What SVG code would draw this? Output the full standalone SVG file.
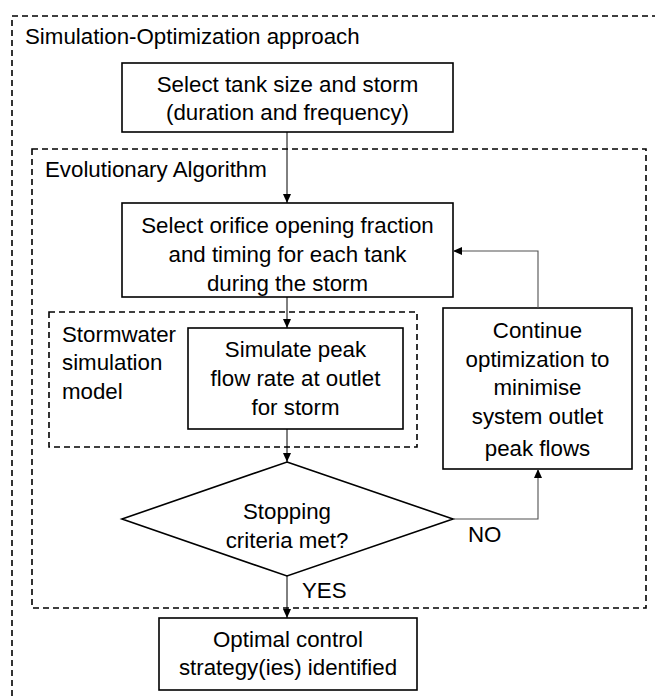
<svg xmlns="http://www.w3.org/2000/svg" width="655" height="696" viewBox="0 0 655 696">
<defs>
<style>
text{font-family:"Liberation Sans",Arial,sans-serif;font-size:22.3px;fill:#000}
.c{text-anchor:middle}
.box{fill:#fff;stroke:#000;stroke-width:1.6}
.dash{fill:none;stroke:#000;stroke-width:1.6;stroke-dasharray:6 4}
.ln{fill:none;stroke:#000;stroke-width:1}
.gl{fill:none;stroke:#505050;stroke-width:1.1}
</style>
<marker id="ah" viewBox="0 0 10 10" refX="10" refY="5" markerWidth="9" markerHeight="8" markerUnits="userSpaceOnUse" orient="auto" preserveAspectRatio="none">
<path d="M0,0 L10,5 L0,10 Z" fill="#000"/>
</marker>
</defs>
<rect width="655" height="696" fill="#fff"/>
<g id="outer">
<rect class="dash" x="12" y="16" width="670" height="720"/>
<text x="25" y="44">Simulation-Optimization approach</text>
</g>
<g id="evo">
<rect class="dash" x="32" y="149" width="614" height="459"/>
<text x="45" y="177">Evolutionary Algorithm</text>
</g>
<g id="swmodel">
<rect class="dash" x="49" y="312" width="368" height="135"/>
<text x="62"><tspan x="62" y="342">Stormwater</tspan><tspan x="62" y="370">simulation</tspan><tspan x="62" y="399">model</tspan></text>
</g>
<g id="select-tank">
<rect class="box" x="122" y="63" width="331" height="69"/>
<text class="c"><tspan x="287.5" y="92">Select tank size and storm</tspan><tspan x="287.5" y="120">(duration and frequency)</tspan></text>
</g>
<g id="select-orifice">
<rect class="box" x="122" y="203" width="331" height="94"/>
<text class="c"><tspan x="287.5" y="233">Select orifice opening fraction</tspan><tspan x="287.5" y="262">and timing for each tank</tspan><tspan x="287.5" y="291">during the storm</tspan></text>
</g>
<g id="simulate">
<rect class="box" x="188" y="328" width="215" height="101"/>
<text class="c"><tspan x="295.5" y="357">Simulate peak</tspan><tspan x="295.5" y="386">flow rate at outlet</tspan><tspan x="295.5" y="415">for storm</tspan></text>
</g>
<g id="continue">
<rect class="box" x="443" y="308" width="189" height="161"/>
<text class="c"><tspan x="537.5" y="338">Continue</tspan><tspan x="537.5" y="367">optimization to</tspan><tspan x="537.5" y="395">minimise</tspan><tspan x="537.5" y="424">system outlet</tspan><tspan x="537.5" y="456">peak flows</tspan></text>
</g>
<g id="decision">
<polygon class="box" points="287,462 453,519 287,576 122,519"/>
<text class="c"><tspan x="287" y="519">Stopping</tspan><tspan x="287" y="548">criteria met?</tspan></text>
</g>
<g id="optimal">
<rect class="box" x="159" y="618" width="258" height="72"/>
<text class="c"><tspan x="288" y="647">Optimal control</tspan><tspan x="288" y="675">strategy(ies) identified</tspan></text>
</g>
<g id="connectors">
<path class="ln" d="M287,132 V203" marker-end="url(#ah)"/>
<path class="ln" d="M287,297 V328" marker-end="url(#ah)"/>
<path class="ln" d="M287,429 V462" marker-end="url(#ah)"/>
<path class="ln" d="M287,576 V618" marker-end="url(#ah)"/>
<path class="gl" d="M453,519 H538 V469" marker-end="url(#ah)"/>
<path class="gl" d="M538,308 V251 H453" marker-end="url(#ah)"/>
<text x="302" y="598">YES</text>
<text x="468" y="542">NO</text>
</g>
</svg>
